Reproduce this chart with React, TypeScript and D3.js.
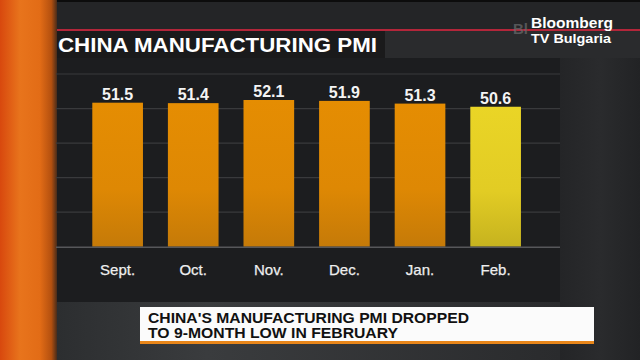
import React from "react";
import * as d3 from "d3";

const months = ["Sept.", "Oct.", "Nov.", "Dec.", "Jan.", "Feb."];
const pmiValues = [51.5, 51.4, 52.1, 51.9, 51.3, 50.6];
const valueLabels = ["51.5", "51.4", "52.1", "51.9", "51.3", "50.6"];
const highlightMonth = "Feb.";
const gridDivisions = [0, 1, 2, 3, 4, 5];
const titleText = "CHINA MANUFACTURING PMI";
const headlineLines = ["CHINA'S MANUFACTURING PMI DROPPED", "TO 9-MONTH LOW IN FEBRUARY"];

const W = 640;
const H = 360;
const baseY = 246.7;

export default function App() {
  const x = d3
    .scaleBand<string>()
    .domain(months)
    .range([92.3 - 0.33 * 75.6, 92.3 - 0.33 * 75.6 + 75.6 * (6 + 0.33)])
    .paddingInner(0.33)
    .paddingOuter(0.33);
  const y = d3.scaleLinear().domain([19.5, 52.1]).range([baseY, 100]);
  const grid = d3.scaleLinear().domain([0, 5]).range([baseY, 74]);
  const font = "'Liberation Sans', Arial, Helvetica, sans-serif";
  const narrow = "'Liberation Sans Narrow', 'Arial Narrow', 'Liberation Sans', Arial, sans-serif";

  return (
    <div style={{ position: "fixed", left: 0, top: 0, width: W, height: H }}>
      <svg width={W} height={H} viewBox={`0 0 ${W} ${H}`} style={{ display: "block" }}>
        <defs>
          <linearGradient id="strip" x1="0" x2="1" y1="0" y2="0">
            <stop offset="0" stopColor="#d8480e" />
            <stop offset="0.35" stopColor="#e8741c" />
            <stop offset="0.7" stopColor="#e26c16" />
            <stop offset="0.9" stopColor="#b4500f" />
            <stop offset="1" stopColor="#4a2c1a" />
          </linearGradient>
          <linearGradient id="orangeBar" x1="0" x2="0" y1="0" y2="1">
            <stop offset="0" stopColor="#e58d02" />
            <stop offset="0.6" stopColor="#de8804" />
            <stop offset="1" stopColor="#c57a08" />
          </linearGradient>
          <linearGradient id="yellowBar" x1="0" x2="0" y1="0" y2="1">
            <stop offset="0" stopColor="#ead526" />
            <stop offset="0.6" stopColor="#e2cc24" />
            <stop offset="1" stopColor="#c6b31f" />
          </linearGradient>
          <linearGradient id="rightSide" x1="0" x2="1" y1="0" y2="0">
            <stop offset="0" stopColor="#242527" />
            <stop offset="0.5" stopColor="#2a2b2d" />
            <stop offset="1" stopColor="#222325" />
          </linearGradient>
          <linearGradient id="bottomArea" x1="0" x2="1" y1="0" y2="0">
            <stop offset="0" stopColor="#2c2e30" />
            <stop offset="0.3" stopColor="#3a3c3e" />
            <stop offset="1" stopColor="#2a2b2d" />
          </linearGradient>
        </defs>

        {/* background */}
        <rect x={0} y={0} width={W} height={H} fill="#1e1f21" />
        <rect x={0} y={0} width={W} height={29} fill="#242527" />
        <rect x={0} y={0} width={W} height={2} fill="#0c0c0c" />
        <rect x={385} y={31} width={W - 385} height={27} fill="#2a2b2d" />
        <rect x={560} y={58} width={80} height={302} fill="url(#rightSide)" />
        <rect x={56} y={302} width={504} height={58} fill="url(#bottomArea)" />

        {/* chart panel */}
        <rect x={56} y={58} width={504} height={244} fill="#1c1d1f" />

        {/* title box */}
        <rect x={53} y={29} width={332} height={29} fill="#1a1a1b" />
        <rect x={53} y={29} width={W - 53} height={2} fill="#b3263a" />
        <text
          x={58}
          y={52}
          fill="#ffffff"
          fontFamily={font}
          fontWeight={700}
          fontSize={21}
          textLength={319}
          lengthAdjust="spacingAndGlyphs"
        >
          {titleText}
        </text>

        {/* left orange strip */}
        <rect x={0} y={0} width={57} height={H} fill="url(#strip)" />

        {/* gridlines */}
        {gridDivisions.slice(1).map((g) => (
          <line key={g} x1={56} x2={560} y1={grid(g)} y2={grid(g)} stroke="#393a3c" strokeWidth={1.2} />
        ))}

        {/* bars */}
        {months.map((m, i) => (
          <rect
            key={m}
            x={x(m)}
            y={y(pmiValues[i])}
            width={x.bandwidth()}
            height={baseY - y(pmiValues[i])}
            fill={m === highlightMonth ? "url(#yellowBar)" : "url(#orangeBar)"}
          />
        ))}
        <line x1={56} x2={560} y1={baseY + 0.5} y2={baseY + 0.5} stroke="#56575a" strokeWidth={1.5} />

        {/* value labels */}
        {months.map((m, i) => (
          <text
            key={m}
            x={(x(m) as number) + x.bandwidth() / 2}
            y={y(pmiValues[i]) - 3}
            textAnchor="middle"
            fill="#f4f4f4"
            fontFamily={font}
            fontWeight={700}
            fontSize={16}
          >
            {valueLabels[i]}
          </text>
        ))}

        {/* month labels */}
        {months.map((m) => (
          <text
            key={m}
            x={(x(m) as number) + x.bandwidth() / 2}
            y={275}
            textAnchor="middle"
            fill="#eeeeee"
            fontFamily={font}
            fontSize={15}
            stroke="#eeeeee"
            strokeWidth={0.25}
          >
            {m}
          </text>
        ))}

        {/* logo */}
        <text x={513} y={34} fill="#6a6b6d" fontFamily={font} fontWeight={700} fontSize={15} opacity={0.7}>
          Bl
        </text>
        <text x={531} y={28} fill="#ffffff" fontFamily={font} fontWeight={700} fontSize={14} textLength={82} lengthAdjust="spacingAndGlyphs">
          Bloomberg
        </text>
        <text x={531} y={43} fill="#ffffff" fontFamily={font} fontWeight={700} fontSize={13} textLength={80} lengthAdjust="spacingAndGlyphs">
          TV Bulgaria
        </text>

        {/* lower third */}
        <rect x={140} y={307} width={454} height={34} fill="#fbfbfb" />
        <rect x={140} y={341} width={454} height={3} fill="#e8861a" />
        <text x={148} y={322.5} fill="#111" fontFamily={narrow} fontWeight={700} fontSize={14} textLength={321} lengthAdjust="spacingAndGlyphs">
          {headlineLines[0]}
        </text>
        <text x={148} y={338} fill="#111" fontFamily={narrow} fontWeight={700} fontSize={14} textLength={250} lengthAdjust="spacingAndGlyphs">
          {headlineLines[1]}
        </text>
      </svg>
    </div>
  );
}
